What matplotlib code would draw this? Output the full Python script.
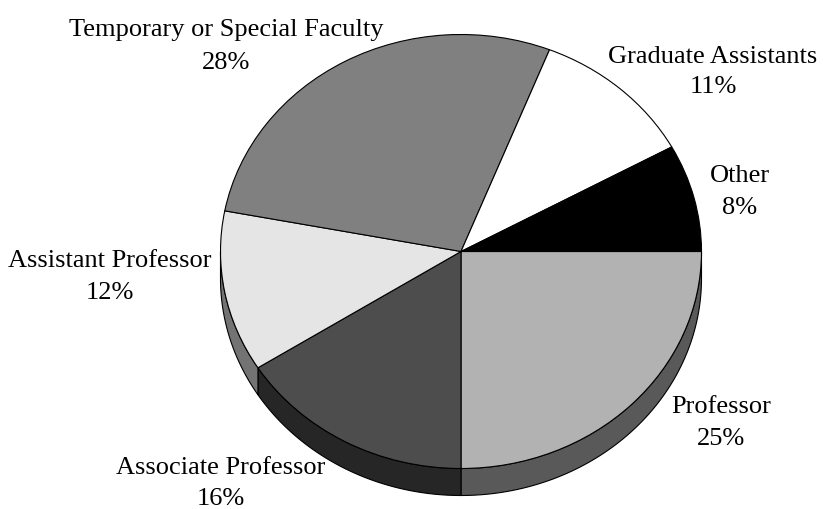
import numpy as np
import matplotlib
matplotlib.use('Agg')
import matplotlib.pyplot as plt

categories = ['Professor', 'Associate Professor', 'Assistant Professor',
              'Temporary or Special Faculty', 'Graduate Assistants', 'Other']
values = [25, 16, 12, 28, 11, 8]
top_colors = ['#b2b2b2', '#4d4d4d', '#e5e5e5', '#808080', '#ffffff', '#000000']
side_colors = ['#595959', '#262626', '#737373', '#404040', '#808080', '#000000']

# label centre x, name baseline y, percent baseline y, in pixels of the picture
label_pos = [(721, 413, 445), (221, 474, 505), (110, 267, 299),
             (226, 36, 69), (713, 63, 93), (740, 182, 214)]

W, H = 823, 510
cx, cy = 461, 252.5
rx, ry = 240.5, 217
depth = 27

fig = plt.figure(figsize=(W / 100, H / 100), dpi=100)
ax = fig.add_axes([0, 0, 1, 1])

ax.pie(values, colors=top_colors, startangle=0, counterclock=False, radius=1,
       wedgeprops={'edgecolor': 'black', 'linewidth': 0.8, 'zorder': 3})
ax.set_aspect('auto')
ax.set_xlim(-cx / rx, (W - cx) / rx)
ax.set_ylim(-(H - cy) / ry, cy / ry)

# side wall of the disc, only the front half can be seen
fractions = np.cumsum([0] + values) / sum(values)
drop = depth / ry
for i in range(len(values)):
    a0 = 360 * fractions[i]
    a1 = min(360 * fractions[i + 1], 180)
    if a0 >= 180:
        continue
    t = np.radians(np.linspace(a0, a1, 80))
    xs = np.cos(t)
    ys = -np.sin(t)
    ax.fill(np.r_[xs, xs[::-1]], np.r_[ys, ys[::-1] - drop],
            facecolor=side_colors[i], edgecolor='black', linewidth=0.8, zorder=2)

for name, v, (x, y1, y2) in zip(categories, values, label_pos):
    fig.text(x / W, 1 - y1 / H, name, ha='center', va='baseline',
             family='Liberation Serif', fontsize=19, color='black')
    fig.text(x / W, 1 - y2 / H, f'{v}%', ha='center', va='baseline',
             family='Liberation Serif', fontsize=19, color='black')

fig.savefig('out.png', dpi=100, facecolor='white')
